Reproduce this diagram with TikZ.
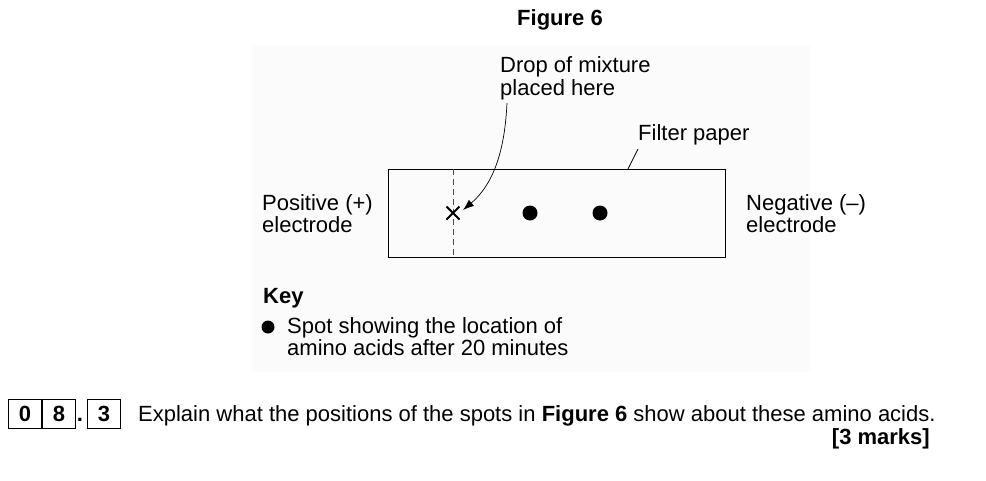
\documentclass[tikz,border=0pt]{standalone}
\usepackage{fontspec}
\setmainfont{Liberation Sans}
\usetikzlibrary{arrows.meta}
\begin{document}
\begin{tikzpicture}[x=1pt,y=-1pt,
  txt/.style={inner sep=0pt,font=\fontsize{22}{22}\selectfont,align=left},
  bl/.style={txt,font=\fontsize{22}{22}\selectfont\bfseries},
  spot/.style={circle,fill=black,inner sep=0pt,minimum size=15pt},
  qbox/.style={draw,line width=1pt,minimum width=33pt,minimum height=29pt,inner sep=0pt,font=\fontsize{22}{22}\selectfont\bfseries}]
\useasboundingbox (0,0) rectangle (986,480);
\fill[white] (0,0) rectangle (986,480);
\fill[black!1.5] (251,45) rectangle (810,372);
\node[bl,anchor=base] (fig) at (560,25) {Figure 6};
\node[txt,anchor=base west,font=\fontsize{22}{23}\selectfont] (drop) at (500,95) {Drop of mixture\\placed here};
\node[txt,anchor=base west] (fp) at (638,140) {Filter paper};
\node[draw,line width=1pt,minimum width=337pt,minimum height=88pt,inner sep=0pt,anchor=north west] (paper) at (388,169) {};
\coordinate (dtop) at (453,169);
\coordinate (dbot) at (453,257);
\draw[dashed,dash pattern=on 6pt off 4pt,line width=0.8pt,black!70] (dtop) -- (dbot);
\coordinate (x) at (453,213);
\draw[line width=2pt] ([shift={(-6.5,-6.5)}]x) -- ([shift={(6.5,6.5)}]x) ([shift={(-6.5,6.5)}]x) -- ([shift={(6.5,-6.5)}]x);
\node[spot] (s1) at (530,213) {};
\node[spot] (s2) at (600,213) {};
\coordinate (dl) at (507,103);
\coordinate (tip) at (463,210);
\draw[line width=0.7pt,-{Latex[length=11pt,width=8pt]}] (dl) .. controls (505,145) and (496,182) .. (tip);
\coordinate (fl) at (638,149);
\coordinate (fr) at (628,169);
\draw[line width=0.7pt] (fl) -- (fr);
\node[txt,anchor=base west] (pos) at (262,232) {Positive (+)\\electrode};
\node[txt,anchor=base west] (neg) at (746,232) {Negative (--)\\electrode};
\node[bl,anchor=base west] (key) at (263,303) {Key};
\node[spot,minimum size=13pt] (kd) at (268,327) {};
\node[txt,anchor=base west] (kt) at (287,355) {Spot showing the location of\\amino acids after 20 minutes};
\node[qbox,anchor=north west] (b0) at (8,399) {0};
\node[qbox,anchor=west] (b8) at (b0.east) {8};
\node[qbox,anchor=north west] (b3) at (87,399) {3};
\node[bl,anchor=base] (dot) at (80,421) {.};
\node[txt,anchor=base west] (q) at (138,421) {Explain what the positions of the spots in \textbf{Figure 6} show about these amino acids.};
\node[bl,anchor=base east] (marks) at (930,444) {[3 marks]};
\end{tikzpicture}
\end{document}
